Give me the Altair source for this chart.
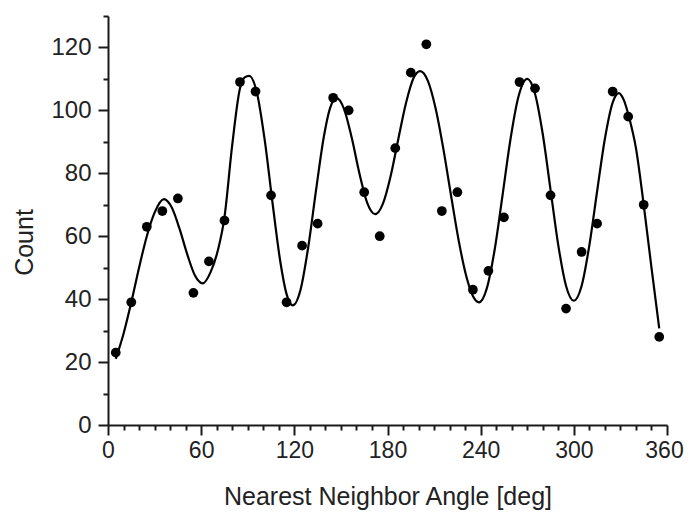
import altair as alt
import pandas as pd

# Measured data points (angle bin centre, count)
angles = [5, 15, 25, 35, 45, 55, 65, 75, 85, 95, 105, 115, 125, 135, 145, 155, 165, 175,
          185, 195, 205, 215, 225, 235, 245, 255, 265, 275, 285, 295, 305, 315, 325, 335, 345, 355]
counts = [23, 39, 63, 68, 72, 42, 52, 65, 109, 106, 73, 39, 57, 64, 104, 100, 74, 60,
          88, 112, 121, 68, 74, 43, 49, 66, 109, 107, 73, 37, 55, 64, 106, 98, 70, 28]

# Fitted curve
fit_x = [5, 10, 15, 20, 25, 30, 36, 41, 46, 51, 56, 61, 66, 71, 75, 80, 85, 88, 91, 96, 101, 106,
         111, 115, 119, 124, 129, 134, 139, 143, 147, 152, 157, 162, 167, 172, 177, 182, 187,
         192, 197, 201, 206, 211, 216, 221, 226, 231, 235, 239, 244, 249, 254, 259, 264, 270,
         275, 280, 285, 290, 295, 300, 305, 310, 315, 320, 325, 329, 332, 336, 340, 345, 350, 355]
fit_y = [21, 29, 39, 50, 60, 67.5, 71.8, 69.2, 62.5, 54.3, 47.5, 45, 48.5, 56, 66, 89, 107, 110.5,
         111, 105.4, 90.3, 70.4, 51.8, 41.6, 38, 43, 56.7, 74.7, 91.6, 100.7, 104, 100.5, 91.2,
         79.8, 70.5, 67, 70.3, 79.1, 91, 102.5, 110.5, 112.5, 109.4, 100.6, 87.7, 72.7, 58.2,
         46.8, 41, 39, 43.5, 55.7, 72.7, 90.2, 103.7, 110, 105.3, 92.4, 74.75, 57.1, 44.2, 39.5,
         44.2, 57.1, 74.3, 91, 102.5, 105.5, 103.5, 97, 88, 70, 50, 30.7]

x_ticks = list(range(0, 361, 10))
y_ticks = list(range(0, 131, 10))

pts = pd.DataFrame({"angle": angles, "count": counts})
fit = pd.DataFrame({"angle": fit_x, "count": fit_y})

FONT = "Liberation Sans"

x_scale = alt.Scale(domain=[0, 360], nice=False, zero=False)
y_scale = alt.Scale(domain=[0, 130], nice=False)

x_axis = alt.Axis(
    title="Nearest Neighbor Angle [deg]",
    values=x_ticks,
    tickCount=100,
    labelExpr="datum.value % 60 === 0 ? datum.label : ''",
    tickSize={"condition": {"test": "datum.value % 60 === 0", "value": 10}, "value": 5},
    labelOffset={"condition": {"test": "datum.value === 360", "value": -3}, "value": 0},
    labelFontSize=23,
    labelPadding=4,
    titleBaseline="alphabetic",
    titleAlign="center",
    titleY=79,
    labelFlush=False,
    labelOverlap=False,
)
y_axis = alt.Axis(
    title="Count",
    values=y_ticks,
    tickCount=100,
    labelExpr="datum.value % 20 === 0 ? datum.label : ''",
    tickSize={"condition": {"test": "datum.value % 20 === 0", "value": 10}, "value": 5},
    labelPadding=7,
    titleBaseline="alphabetic",
    titleAlign="center",
    titleX=-76,
    titleY=226,
    labelFlush=False,
    labelOverlap=False,
)

line = alt.Chart(fit).mark_line(color="black", strokeWidth=2.2, interpolate="monotone").encode(
    x=alt.X("angle:Q", scale=x_scale, axis=x_axis),
    y=alt.Y("count:Q", scale=y_scale, axis=y_axis),
)
points = alt.Chart(pts).mark_circle(color="black", opacity=1, size=95).encode(
    x=alt.X("angle:Q", scale=x_scale),
    y=alt.Y("count:Q", scale=y_scale),
)

chart = alt.layer(line, points).properties(
    width=559,
    height=409,
    padding={"left": 100, "top": 8, "right": 17, "bottom": 87},
    autosize=alt.AutoSizeParams(type="none"),
    background="white",
).configure_view(stroke=None).configure_axis(
    grid=False,
    domainColor="#1a1a1a",
    domainWidth=2,
    tickColor="#1a1a1a",
    tickWidth=2,
    labelFont=FONT,
    labelFontSize=24,
    labelColor="#222222",
    titleFont=FONT,
    titleFontSize=25,
    titleFontWeight="normal",
    titleColor="#222222",
)

chart.save("out.html", embed_options={"renderer": "svg", "actions": False})
